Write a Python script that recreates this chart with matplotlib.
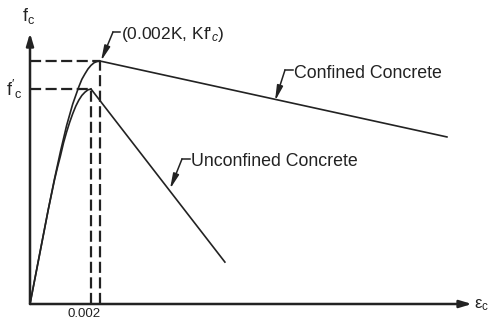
import matplotlib
matplotlib.use("Agg")
import matplotlib.pyplot as plt

plt.rcParams['font.family'] = ['Liberation Sans', 'DejaVu Sans']
plt.rcParams['mathtext.fontset'] = 'custom'
plt.rcParams['mathtext.rm'] = 'Liberation Sans'
plt.rcParams['mathtext.it'] = 'Liberation Sans:italic'

# ---- data (strain, stress normalised to f'c) ----
eps_co = 0.002          # unconfined peak strain
K = 1.13                # confinement factor
eps_cc = 0.0023         # confined peak strain (0.002K)

unconf_asc_x = [0.0, 0.0003, 0.0006, 0.0008, 0.0009, 0.0010, 0.0011, 0.0012, 0.0013,
                0.0014, 0.0015, 0.0016, 0.0017, 0.0018, 0.0019, 0.002]
unconf_asc_y = [0.0, 0.22, 0.44, 0.575, 0.635, 0.69, 0.75, 0.80, 0.845,
                0.885, 0.92, 0.948, 0.97, 0.985, 0.996, 1.0]
conf_asc_x = [0.0, 0.0003, 0.0006, 0.0008, 0.0009, 0.0010, 0.0011, 0.0012, 0.0013,
              0.0014, 0.0015, 0.0016, 0.0017, 0.0018, 0.0019, 0.0020, 0.0021, 0.0022, 0.0023]
conf_asc_y = [0.0, 0.22, 0.44, 0.58, 0.645, 0.71, 0.77, 0.83, 0.88,
              0.93, 0.97, 1.01, 1.045, 1.07, 1.093, 1.11, 1.122, 1.128, 1.13]
unconf_desc_x = [0.002, 0.00639]
unconf_desc_y = [1.0, 0.195]
conf_desc_x = [0.0023, 0.01367]
conf_desc_y = [1.13, 0.777]

x_axis_end = 0.01449
y_axis_end = 1.26
tick_label = "0.002"

# ---- figure ----
W, H = 489, 320
fig = plt.figure(figsize=(W / 100, H / 100), dpi=100)
ax = fig.add_axes([0, 0, 1, 1])
px_per_x = 61 / 0.002
px_per_y = 215.0
ax.set_xlim(-30 / px_per_x, (W - 30) / px_per_x)
ax.set_ylim(-(H - 304) / px_per_y, 304 / px_per_y)
ax.axis('off')

ink = '#222222'

# axes with arrows
for tip in [(x_axis_end, 0), (0, y_axis_end)]:
    ax.annotate('', xy=tip, xytext=(0, 0),
                arrowprops=dict(arrowstyle='-|>,head_length=0.6,head_width=0.18',
                                color=ink, lw=1.8, shrinkA=0, shrinkB=0, mutation_scale=12))

# curves
ax.plot(unconf_asc_x, unconf_asc_y, color=ink, lw=1.2, solid_capstyle='round', solid_joinstyle='round')
ax.plot(conf_asc_x, conf_asc_y, color=ink, lw=1.2, solid_capstyle='round', solid_joinstyle='round')
ax.plot(unconf_desc_x, unconf_desc_y, color=ink, lw=1.2)
ax.plot(conf_desc_x, conf_desc_y, color=ink, lw=1.2)

# dashed guides
dash = dict(color=ink, lw=1.6, dashes=(5, 2))
ax.plot([0, eps_co], [1.0, 1.0], **dash)
ax.plot([0, eps_cc], [K, K], **dash)
ax.plot([eps_co, eps_co], [0, 1.0], **dash)
ax.plot([eps_cc, eps_cc], [0, K], **dash)


def px2d(px, py):
    return ((px - 30) / px_per_x, (304 - py) / px_per_y)


# axis labels
ax.text(*px2d(29, 16), r'f$_\mathregular{c}$', fontsize=13, ha='center', va='center', color=ink)
ax.text(*px2d(14, 89), r"$\mathregular{f'_c}$", fontsize=13, ha='center', va='center', color=ink)
ax.text(*px2d(482, 305), r'$\mathregular{ε_c}$', fontsize=12, ha='center', va='center', color=ink)
ax.text(*px2d(84, 314), tick_label, fontsize=9.5, ha='center', va='center', color=ink)


def leader(text_px, stub_px, tip_px, label, fs):
    tx, ty = px2d(*text_px)
    sx, sy = px2d(*stub_px)
    ex, ey = px2d(*tip_px)
    ax.plot([tx - 1 / px_per_x, sx], [sy, sy], color=ink, lw=1.1)
    ax.annotate('', xy=(ex, ey), xytext=(sx, sy),
                arrowprops=dict(arrowstyle='-|>,head_length=0.9,head_width=0.18',
                                color=ink, lw=1.1, shrinkA=0, shrinkB=0, mutation_scale=10))
    ax.text(tx, ty, label, fontsize=fs, ha='left', va='center', color=ink)


leader((121, 34), (113, 32), (101, 61), r"(0.002K, Kf$'_{c}$)", 12.5)
leader((294, 73), (285, 70), (275, 101), "Confined Concrete", 12.8)
leader((191, 161), (182, 159), (170, 189), "Unconfined Concrete", 12.8)

fig.savefig('out.png', dpi=100)
